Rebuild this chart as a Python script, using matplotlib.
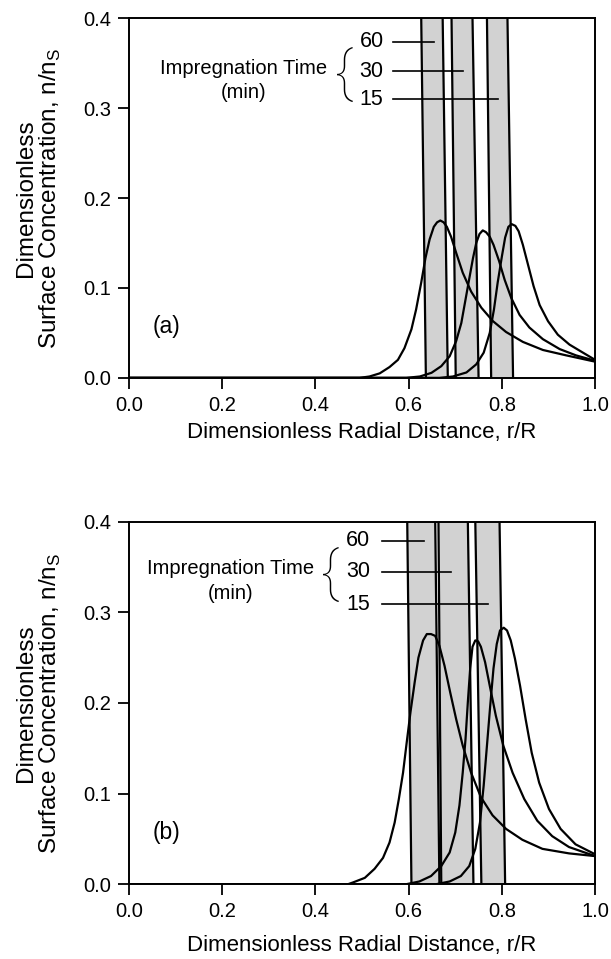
import matplotlib
matplotlib.use("Agg")
import matplotlib.pyplot as plt

plt.rcParams['font.family'] = ['Liberation Sans', 'DejaVu Sans']

# --- panel (a): curves (r/R, n/ns) ---
a60_x = [0.0, 0.495, 0.516, 0.538, 0.559, 0.577, 0.591, 0.606, 0.616, 0.627, 0.636,
         0.645, 0.654, 0.661, 0.668, 0.675, 0.682, 0.691, 0.702, 0.716, 0.734,
         0.756, 0.781, 0.809, 0.845, 0.888, 0.938, 1.0]
a60_y = [0.0, 0.0, 0.0015, 0.005, 0.012, 0.020, 0.033, 0.054, 0.076, 0.106, 0.133,
         0.154, 0.168, 0.173, 0.175, 0.173, 0.168, 0.157, 0.139, 0.117, 0.096,
         0.078, 0.063, 0.051, 0.040, 0.031, 0.025, 0.018]
a30_x = [0.0, 0.595, 0.624, 0.649, 0.670, 0.688, 0.702, 0.713, 0.722, 0.731, 0.738,
         0.745, 0.752, 0.759, 0.766, 0.774, 0.782, 0.794, 0.806, 0.820, 0.838,
         0.859, 0.888, 0.924, 0.959, 1.0]
a30_y = [0.0, 0.0, 0.0015, 0.0056, 0.013, 0.024, 0.041, 0.061, 0.087, 0.113, 0.133,
         0.150, 0.160, 0.164, 0.162, 0.157, 0.148, 0.130, 0.109, 0.089, 0.070,
         0.056, 0.043, 0.032, 0.025, 0.019]
a15_x = [0.0, 0.666, 0.695, 0.724, 0.745, 0.761, 0.774, 0.783, 0.791, 0.800, 0.807,
         0.814, 0.821, 0.829, 0.836, 0.845, 0.856, 0.868, 0.881, 0.899, 0.920,
         0.945, 0.974, 1.0]
a15_y = [0.0, 0.0, 0.0015, 0.006, 0.015, 0.028, 0.050, 0.076, 0.106, 0.135, 0.156,
         0.168, 0.171, 0.169, 0.163, 0.148, 0.126, 0.102, 0.081, 0.063, 0.048,
         0.037, 0.028, 0.020]

# shaded bands (left/right edge at top and at bottom of the axes)
a_band_lt = [0.627, 0.692, 0.768]
a_band_rt = [0.673, 0.737, 0.812]
a_band_lb = [0.637, 0.701, 0.777]
a_band_rb = [0.684, 0.750, 0.824]

# --- panel (b) ---
b60_x = [0.0, 0.470, 0.481, 0.506, 0.527, 0.545, 0.559, 0.570, 0.579, 0.588, 0.596,
         0.604, 0.613, 0.621, 0.631, 0.639, 0.648, 0.657, 0.666, 0.677, 0.689,
         0.702, 0.716, 0.734, 0.755, 0.780, 0.809, 0.844, 0.887, 0.944, 1.0]
b60_y = [0.0, 0.0, 0.002, 0.007, 0.017, 0.029, 0.046, 0.068, 0.094, 0.123, 0.157,
         0.190, 0.223, 0.250, 0.269, 0.276, 0.276, 0.274, 0.263, 0.241, 0.212,
         0.182, 0.153, 0.123, 0.096, 0.076, 0.061, 0.049, 0.039, 0.034, 0.031]
b30_x = [0.0, 0.595, 0.623, 0.648, 0.670, 0.688, 0.700, 0.709, 0.716, 0.722, 0.727,
         0.732, 0.737, 0.743, 0.749, 0.755, 0.764, 0.774, 0.787, 0.803, 0.823,
         0.848, 0.876, 0.908, 0.944, 1.0]
b30_y = [0.0, 0.0, 0.003, 0.009, 0.020, 0.035, 0.057, 0.087, 0.123, 0.160, 0.201,
         0.238, 0.262, 0.269, 0.268, 0.262, 0.245, 0.219, 0.186, 0.153, 0.123,
         0.094, 0.070, 0.053, 0.041, 0.031]
b15_x = [0.0, 0.659, 0.688, 0.712, 0.730, 0.743, 0.753, 0.761, 0.768, 0.775, 0.782,
         0.789, 0.796, 0.804, 0.811, 0.819, 0.828, 0.839, 0.851, 0.864, 0.880,
         0.901, 0.926, 0.958, 1.0]
b15_y = [0.0, 0.0, 0.003, 0.009, 0.020, 0.039, 0.068, 0.109, 0.153, 0.197, 0.238,
         0.265, 0.280, 0.283, 0.280, 0.269, 0.249, 0.219, 0.182, 0.145, 0.112,
         0.083, 0.061, 0.044, 0.033]

b_band_lt = [0.597, 0.664, 0.743]
b_band_rt = [0.657, 0.727, 0.795]
b_band_lb = [0.606, 0.670, 0.756]
b_band_rb = [0.666, 0.739, 0.807]

# impregnation times and where their leader lines end
times = ['60', '30', '15']
a_label_y = [0.374, 0.341, 0.310]
a_line_end = [0.654, 0.716, 0.791]
b_label_y = [0.379, 0.345, 0.309]
b_line_end = [0.633, 0.690, 0.770]

xticks = [0.0, 0.2, 0.4, 0.6, 0.8, 1.0]
yticks = [0.0, 0.1, 0.2, 0.3, 0.4]

fig = plt.figure(figsize=(6.11, 9.59), dpi=100)
ax_a = fig.add_axes([0.211, 0.606, 0.763, 0.375])
ax_b = fig.add_axes([0.211, 0.078, 0.763, 0.378])

panels = [
    (ax_a, [(a60_x, a60_y), (a30_x, a30_y), (a15_x, a15_y)],
     (a_band_lt, a_band_rt, a_band_lb, a_band_rb), a_label_y, a_line_end,
     0.495, 0.566, 0.245, 0.462, '(a)', 5),
    (ax_b, [(b60_x, b60_y), (b30_x, b30_y), (b15_x, b15_y)],
     (b_band_lt, b_band_rt, b_band_lb, b_band_rb), b_label_y, b_line_end,
     0.466, 0.543, 0.217, 0.432, '(b)', 10),
]

for ax, curves, bands, lab_y, line_end, num_x, line_x0, txt_x, brace_x, tag, xpad in panels:
    lt, rt, lb, rb = bands
    ymax = yticks[-1]
    for i in range(len(lt)):
        ax.fill([lb[i], rb[i], rt[i], lt[i]], [0, 0, ymax, ymax],
                color='#d2d2d2', lw=0, zorder=1)
        ax.plot([lb[i], lt[i]], [0, ymax], color='black', lw=1.6, zorder=2)
        ax.plot([rb[i], rt[i]], [0, ymax], color='black', lw=1.6, zorder=2)

    for cx, cy in curves:
        ax.plot(cx, cy, color='black', lw=1.6, zorder=3, solid_joinstyle='round')

    # times + leader lines
    for t, yy, xe in zip(times, lab_y, line_end):
        ax.text(num_x, yy, t, fontsize=15.5, ha='left', va='center')
        ax.plot([line_x0, xe], [yy, yy], color='black', lw=1.2, zorder=4)
    ax.text(brace_x, lab_y[1] - 0.003, '{', fontsize=40, ha='center', va='center',
            family=['Roboto', 'Liberation Sans'], fontweight='light')
    ax.text(txt_x, lab_y[1] + 0.003, 'Impregnation Time', fontsize=14.5,
            ha='center', va='center')
    ax.text(txt_x, lab_y[1] - 0.024, '(min)', fontsize=14.5, ha='center', va='center')
    ax.text(0.05, 0.057, tag, fontsize=16.5, ha='left', va='center')

    ax.set_xlim(0, 1.0)
    ax.set_ylim(0, 0.4)
    ax.set_xticks(xticks)
    ax.set_yticks(yticks)
    ax.set_xticklabels([f'{v:.1f}' for v in xticks])
    ax.set_yticklabels([f'{v:.1f}' for v in yticks])
    ax.tick_params(direction='out', length=8, width=1.3, labelsize=14.5, pad=5)
    for s in ax.spines.values():
        s.set_linewidth(1.4)
    ax.set_xlabel('Dimensionless Radial Distance, r/R', fontsize=16, labelpad=xpad)
    ax.set_ylabel('Dimensionless\nSurface Concentration, n/n$_\\mathregular{S}$',
                  fontsize=17.5, labelpad=14, linespacing=1.05)

fig.savefig('out.png', dpi=100)
